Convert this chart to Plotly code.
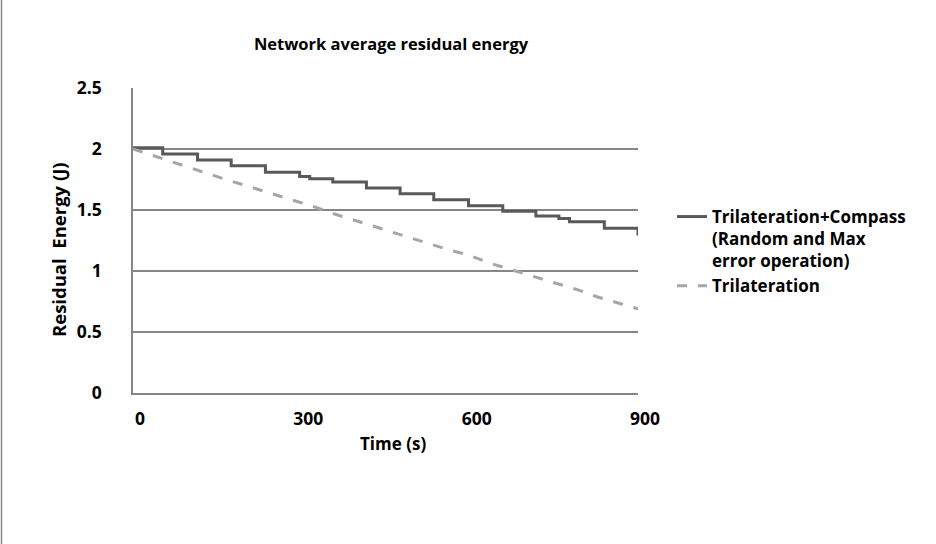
import plotly.graph_objects as go

# Data
compass_t = [0, 53, 115, 175, 236, 297, 315, 356, 416, 476, 536, 598, 659, 718, 759, 778, 840, 900]
compass_v = [2.01, 1.96, 1.91, 1.863, 1.81, 1.775, 1.757, 1.73, 1.68, 1.634, 1.585, 1.535, 1.49,
             1.45, 1.43, 1.404, 1.35, 1.29]

tri_t = [0, 45, 84, 122, 161, 202, 241, 280, 321, 358, 398, 436, 478, 516, 558, 600, 635, 674,
         712, 752, 792, 828, 869, 900]
tri_v = [2.0, 1.934, 1.871, 1.816, 1.757, 1.699, 1.644, 1.584, 1.529, 1.469, 1.411, 1.357, 1.297,
         1.242, 1.18, 1.128, 1.066, 1.011, 0.956, 0.902, 0.847, 0.787, 0.732, 0.69]

x_ticks = [0, 300, 600, 900]
y_ticks = [0, 0.5, 1, 1.5, 2, 2.5]
y_tick_text = ["0", "0.5", "1", "1.5", "2", "2.5"]

title_text = "Network average residual energy"
x_title = "Time (s)"
y_title = "Residual\u00a0 Energy (J)"
name_compass = "Trilateration+Compass<br>(Random and Max<br>error operation)"
name_tri = "Trilateration"

FONT = "'Open Sans', Lato, sans-serif"
GRID = "#868686"

W, H = 936, 544
L, R, T, B = 133, 936 - 638, 88, 544 - 393
PW, PH = W - L - R, H - T - B


def px(x):
    return (x - L) / PW


def py(y):
    return (H - B - y) / PH


bold = dict(family=FONT, color="black", weight=700)

fig = go.Figure()
fig.add_trace(go.Scatter(
    x=compass_t, y=compass_v, mode="lines", name=name_compass,
    line=dict(color="#595959", width=3, shape="hv"),
))
fig.add_trace(go.Scatter(
    x=tri_t, y=tri_v, mode="lines", name=name_tri,
    line=dict(color="#A6A6A6", width=3, dash="10px,11px"),
))

fig.update_layout(
    width=W, height=H,
    margin=dict(l=L, r=R, t=T, b=B),
    paper_bgcolor="white", plot_bgcolor="white",
    font=dict(family=FONT, color="black", size=16),
    title=dict(text="<b>" + title_text + "</b>", x=px(391), xref="paper", xanchor="center",
               y=1 - 44 / H, yref="container", yanchor="middle",
               font=dict(size=16.5, **bold)),
    xaxis=dict(range=[0, 900], tickvals=x_ticks, ticktext=[str(v) for v in x_ticks],
               showgrid=False, zeroline=False, showline=True, linecolor=GRID, linewidth=1.5,
               ticks="", ticklabelshift=7, ticklabelstandoff=9,
               tickfont=dict(size=17.5, **bold)),
    yaxis=dict(range=[0, 2.5], tickvals=y_ticks, ticktext=y_tick_text,
               showgrid=True, gridcolor=GRID, gridwidth=1.5, zeroline=False,
               showline=True, linecolor=GRID, linewidth=1.5, ticks="",
               ticklabelstandoff=26,
               tickfont=dict(size=17.5, **bold)),
    legend=dict(x=px(672), y=py(199), xref="paper", yref="paper",
                xanchor="left", yanchor="top", valign="top",
                bgcolor="rgba(0,0,0,0)", tracegroupgap=0,
                font=dict(size=17, **bold)),
    showlegend=True,
)

fig.add_annotation(text=x_title, xref="paper", yref="paper", x=px(393), y=py(443),
                   showarrow=False, xanchor="center", yanchor="middle",
                   font=dict(size=17, **bold))
fig.add_annotation(text=y_title, xref="paper", yref="paper", x=px(58), y=py(250),
                   textangle=-90, showarrow=False, xanchor="center", yanchor="middle",
                   font=dict(size=18.5, **bold))

# chart outer border (left edge visible)
fig.add_shape(type="line", xref="paper", yref="paper",
              x0=px(1.5), x1=px(1.5), y0=py(0), y1=py(544),
              line=dict(color="#888888", width=1.5))

fig.write_html("out.html")
